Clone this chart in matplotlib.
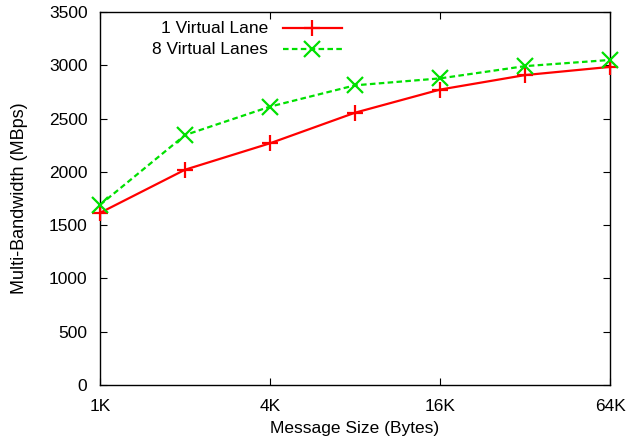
import matplotlib
matplotlib.use("Agg")
import matplotlib.pyplot as plt
from matplotlib.lines import Line2D

plt.rcParams['font.family'] = ['Liberation Sans', 'DejaVu Sans']

sizes = [1024, 2048, 4096, 8192, 16384, 32768, 65536]
tick_vals = [1024, 4096, 16384, 65536]
tick_labels = ["1K", "4K", "16K", "64K"]
vl1 = [1615, 2020, 2268, 2555, 2772, 2908, 2985]
vl8 = [1690, 2345, 2612, 2812, 2877, 2992, 3050]
labels = ["1 Virtual Lane", "8 Virtual Lanes"]

FS = 12.5
fig = plt.figure(figsize=(6.26, 4.45), dpi=100)
ax = fig.add_axes([100/626, 1-385/445, 510/626, 373/445])

red = '#ff0000'
green = '#00e000'
dash = (0, (2.5, 1.5))
ax.plot(sizes, vl1, color=red, lw=1.6, marker='+', ms=12, mew=1.6, clip_on=False, zorder=3)
ax.plot(sizes, vl8, color=green, lw=1.6, ls=dash, marker='x', ms=12, mew=1.6, clip_on=False, zorder=3)

ax.set_xscale('log', base=2)
ax.set_xlim(1024, 65536)
ax.set_ylim(0, 3500)
ax.set_xticks(tick_vals)
ax.set_xticklabels(tick_labels)
ax.xaxis.set_minor_locator(matplotlib.ticker.NullLocator())
ax.set_yticks(range(0, 3501, 500))
ax.tick_params(direction='in', top=True, right=True, length=5, labelsize=FS, width=0.8)
ax.tick_params(axis='y', pad=9)
ax.tick_params(axis='x', pad=10)
ax.set_xlabel("Message Size (Bytes)", fontsize=FS, labelpad=5)
ax.set_ylabel("Multi-Bandwidth (MBps)", fontsize=13, labelpad=15)
for s in ax.spines.values():
    s.set_linewidth(1.0)

# gnuplot-style legend: right-aligned text, sample to the right
ly = [1 - (28.3 - 12)/373, 1 - (49.3 - 12)/373]
tx = (268 - 100)/510
x0, x1, xm = (283 - 100)/510, (342 - 100)/510, (312 - 100)/510
styles = [dict(color=red, ls='-', marker='+'), dict(color=green, ls=dash, marker='x')]
for lab, y, st in zip(labels, ly, styles):
    ax.text(tx, y, lab, transform=ax.transAxes, ha='right', va='center', fontsize=FS)
    ax.add_line(Line2D([x0, x1], [y, y], transform=ax.transAxes, color=st['color'], lw=1.6, ls=st['ls']))
    ax.add_line(Line2D([xm], [y], transform=ax.transAxes, color=st['color'], marker=st['marker'],
                       ms=12, mew=1.6, ls='none'))

fig.savefig("out.png", dpi=100)
